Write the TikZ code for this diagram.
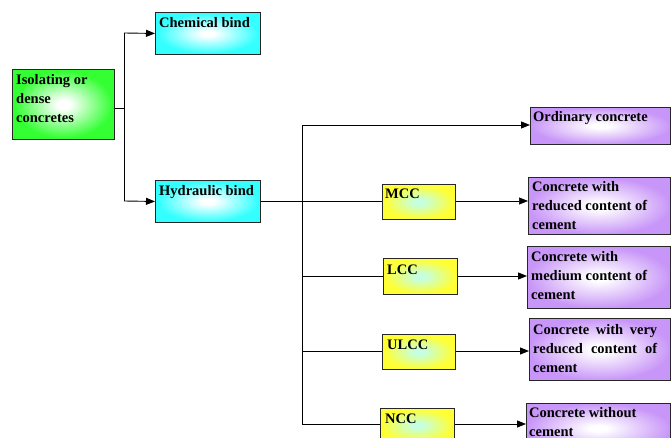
\documentclass[tikz,border=0pt]{standalone}
\usepackage{fontspec}
\setmainfont{Liberation Serif}
\usetikzlibrary{arrows.meta,calc}
\definecolor{bgreen}{HTML}{33FF33}
\definecolor{bcyan}{HTML}{33FFFF}
\definecolor{byellow}{HTML}{FFFF33}
\definecolor{bycenter}{HTML}{C4FFE4}
\definecolor{bpurple}{HTML}{C896F8}
\pgfdeclareradialshading{shgreen}{\pgfpoint{0bp}{0bp}}{color(0bp)=(white); color(3bp)=(white); color(24bp)=(bgreen); color(50bp)=(bgreen)}
\pgfdeclareradialshading{shcyan}{\pgfpoint{0bp}{0bp}}{color(0bp)=(white); color(3bp)=(white); color(24bp)=(bcyan); color(50bp)=(bcyan)}
\pgfdeclareradialshading{shyellow}{\pgfpoint{0bp}{0bp}}{color(0bp)=(bycenter); color(3bp)=(bycenter); color(24bp)=(byellow); color(50bp)=(byellow)}
\pgfdeclareradialshading{shpurple}{\pgfpoint{0bp}{0bp}}{color(0bp)=(white); color(3bp)=(white); color(25bp)=(bpurple); color(50bp)=(bpurple)}
\newcommand\tlines[1]{\begin{tabular}[t]{@{}l@{}}#1\end{tabular}}
\tikzset{
  boxbase/.style={draw=black!85, line width=0.9pt, rectangle, inner sep=0pt, anchor=north west},
  greenbox/.style={boxbase, shading=shgreen},
  cyanbox/.style={boxbase, shading=shcyan},
  yellowbox/.style={boxbase, shading=shyellow},
  purplebox/.style={boxbase, shading=shpurple},
  txt/.style={font=\fontsize{14.5}{19}\selectfont\bfseries, anchor=base west, inner sep=0pt},
  conn/.style={line width=0.9pt, black},
  arr/.style={conn, -{Triangle[length=9pt,width=7pt]}},
}
\begin{document}
\begin{tikzpicture}[x=1pt,y=-1pt]
\useasboundingbox (0,0) rectangle (671,438);
\clip (0,0) rectangle (671,438);
\fill[white] (0,0) rectangle (671,438);
% boxes
\node[greenbox, minimum width=102pt, minimum height=70pt] (iso) at (12,69) {};
\node[cyanbox, minimum width=105pt, minimum height=42pt] (chem) at (155,12) {};
\node[cyanbox, minimum width=105pt, minimum height=42pt] (hyd) at (155,180) {};
\node[purplebox, minimum width=140pt, minimum height=37pt] (ord) at (530,107) {};
\node[yellowbox, minimum width=73pt, minimum height=35pt] (mcc) at (382,184) {};
\node[purplebox, minimum width=142pt, minimum height=57pt] (red) at (528,177) {};
\node[yellowbox, minimum width=74pt, minimum height=36pt] (lcc) at (383,258) {};
\node[purplebox, minimum width=143pt, minimum height=62pt] (med) at (527,246) {};
\node[yellowbox, minimum width=73pt, minimum height=35pt] (ulcc) at (382,334) {};
\node[purplebox, minimum width=141pt, minimum height=62pt] (vred) at (529,318) {};
\node[yellowbox, minimum width=74pt, minimum height=34pt] (ncc) at (380,408) {};
\node[purplebox, minimum width=144pt, minimum height=50pt] (wo) at (526,403) {};
% texts
\node[txt] (isot) at (16,85) {\tlines{Isolating or\\dense\\concretes}};
\node[txt] (chemt) at (159,28) {Chemical bind};
\node[txt] (hydt) at (159,196) {Hydraulic bind};
\node[txt] (ordt) at (533,122) {Ordinary concrete};
\node[txt] (mcct) at (385,199) {MCC};
\node[txt] (redt) at (532,192) {\tlines{Concrete with\\reduced content of\\cement}};
\node[txt] (lcct) at (387,274) {LCC};
\node[txt] (medt) at (531,261) {\tlines{Concrete with\\medium content of\\cement}};
\node[txt] (ulcct) at (387,349) {ULCC};
\node[txt] (vredt) at (533,334) {\tlines{\makebox[124pt][s]{Concrete with very}\\\makebox[124pt][s]{reduced content of}\\cement}};
\node[txt] (ncct) at (385,423) {NCC};
\node[txt] (wot) at (529,417) {\tlines{Concrete without\\cement}};
% junctions
\coordinate (ja) at (124,108);
\coordinate (jc) at (124,33);
\coordinate (jh) at (124,201);
\coordinate (v0) at (302,125);
\coordinate (v1) at (302,201);
\coordinate (v2) at (302,276);
\coordinate (v3) at (302,351);
\coordinate (v4) at (302,424);
% connectors
\draw[conn] (iso.east |- ja) -- (ja);
\draw[conn] (jc) -- (jh);
\draw[arr] (jc) -- (chem.west);
\draw[arr] (jh) -- (hyd.west);
\draw[conn] (hyd.east |- v1) -- (v1 -| mcc.west);
\draw[conn] (v0) -- (v4);
\draw[arr] (v0) -- (v0 -| ord.west);
\draw[conn] (v2) -- (v2 -| lcc.west);
\draw[conn] (v3) -- (v3 -| ulcc.west);
\draw[conn] (v4) -- (v4 -| ncc.west);
\draw[arr, line width=0.6pt] (mcc.east |- v1) -- (v1 -| red.west);
\draw[arr] (lcc.east |- v2) -- (v2 -| med.west);
\draw[arr] (ulcc.east |- v3) -- (v3 -| vred.west);
\draw[arr] (ncc.east |- v4) -- (v4 -| wo.west);
\end{tikzpicture}
\end{document}
